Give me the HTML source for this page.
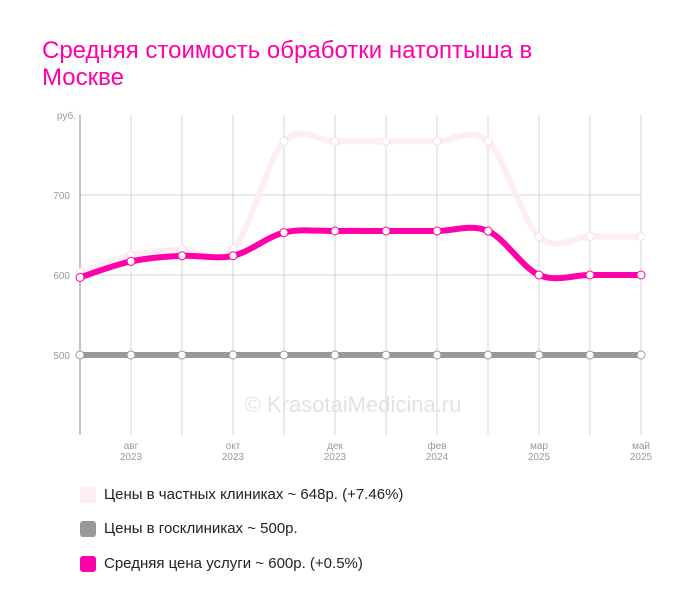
<!DOCTYPE html>
<html><head><meta charset="utf-8"><style>
body{margin:0;width:700px;height:612px;background:#fff;font-family:"Liberation Sans",sans-serif;overflow:hidden}
#t{position:absolute;left:42px;top:37px;font-size:24px;line-height:27px;color:#ff00aa;width:520px}
.lg{position:absolute;left:80px;font-size:15px;color:#222}
.lg i{position:absolute;left:0;top:1px;width:16px;height:16px;border-radius:3px}
.lg span{position:absolute;left:24px;white-space:nowrap}
</style></head><body>
<div id="t">Средняя стоимость обработки натоптыша в Москве</div>
<svg id="c" width="700" height="612" style="position:absolute;left:0;top:0"></svg>
<div class="lg" style="top:486px"><i style="background:#fdeef4"></i><span>Цены в частных клиниках ~ 648р. (+7.46%)</span></div>
<div class="lg" style="top:520px"><i style="background:#999"></i><span>Цены в госклиниках ~ 500р.</span></div>
<div class="lg" style="top:555px"><i style="background:#ff00aa"></i><span>Средняя цена услуги ~ 600р. (+0.5%)</span></div>
<script>
const categories=["","авг|2023","","окт|2023","","дек|2023","","фев|2024","","мар|2025","","май|2025"];
const privatePrices=[603,625,632,632,767,767,767,767,767,648,648,648];
const publicPrices=[500,500,500,500,500,500,500,500,500,500,500,500];
const avgPrices=[597,617,624,624,653,655,655,655,655,600,600,600];
const yTicks=[500,600,700];
const NS="http://www.w3.org/2000/svg",svg=document.getElementById('c');
const x=i=>80+i*51, y=v=>355-(v-500)*0.8;
function el(t,a,n){const e=document.createElementNS(NS,t);for(const k in a)e.setAttribute(k,a[k]);svg.appendChild(e);return e;}
yTicks.forEach(v=>{el('line',{x1:80,x2:641,y1:y(v),y2:y(v),stroke:'#d6d6d6'},'grid-h');const t=el('text',{x:70,y:y(v)+4,'text-anchor':'end','font-size':10,fill:'#999'},'y-tick');t.textContent=v;});
const ru=el('text',{x:76,y:119,'text-anchor':'end','font-size':10,fill:'#999'},'y-unit');ru.textContent='руб.';
categories.forEach((c,i)=>{if(i>0)el('line',{x1:x(i),x2:x(i),y1:115,y2:435,stroke:'#d6d6d6'},'grid-v');
 if(c){const p=c.split('|');p.forEach((s,j)=>{const t=el('text',{x:x(i),y:449+j*11,'text-anchor':'middle','font-size':10,fill:'#999'},'x-tick');t.textContent=s;});}});
el('line',{x1:80,x2:80,y1:115,y2:435,stroke:'#888'},'y-axis');
const wm=el('text',{x:353,y:412,'text-anchor':'middle','font-size':22,fill:'#e2e2e2'},'watermark');wm.textContent='© KrasotaiMedicina.ru';
function path(d){const p=d.map((v,i)=>[x(i),y(v)]);let s=`M${p[0][0]},${p[0][1]}`;
 for(let i=0;i<p.length-1;i++){const p0=p[Math.max(0,i-1)],p1=p[i],p2=p[i+1],p3=p[Math.min(p.length-1,i+2)],k=1/6;
 s+=` C${p1[0]+(p2[0]-p0[0])*k},${p1[1]+(p2[1]-p0[1])*k} ${p2[0]-(p3[0]-p1[0])*k},${p2[1]-(p3[1]-p1[1])*k} ${p2[0]},${p2[1]}`;}return s;}
[[privatePrices,'#fdeef4','series-private'],[publicPrices,'#999','series-public'],[avgPrices,'#ff00aa','series-average']].forEach(([d,c,n])=>{
 el('path',{d:path(d),fill:'none',stroke:c,'stroke-width':6,'stroke-linecap':'round'},n+'-line');
 d.forEach((v,i)=>el('circle',{cx:x(i),cy:y(v),r:4,fill:'#fff',stroke:c==='#fdeef4'?'#f8dbe7':c,'stroke-width':1},n+'-point'));});
</script>
</body></html>
